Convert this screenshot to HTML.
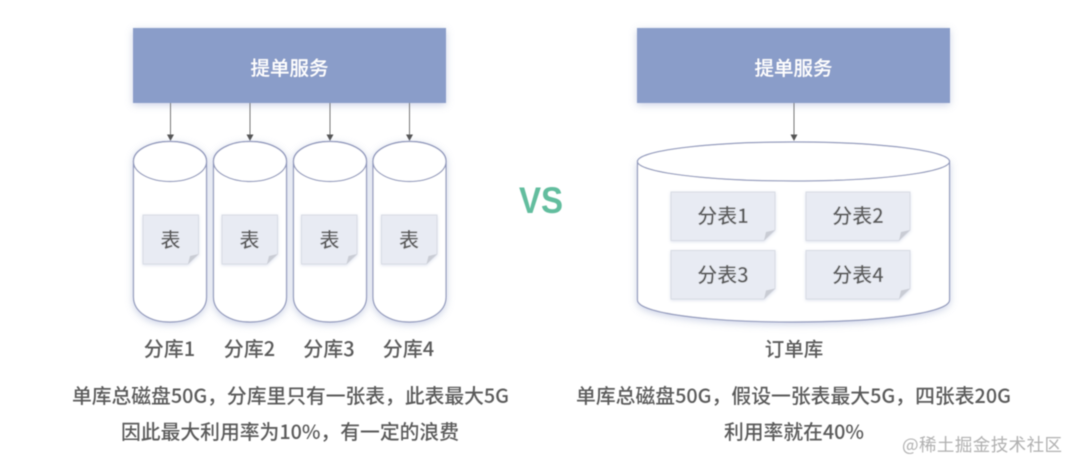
<!DOCTYPE html>
<html lang="zh">
<head>
<meta charset="utf-8">
<style>
html,body{margin:0;padding:0;background:#fff;width:1080px;height:473px;overflow:hidden}
svg{display:block;position:absolute;left:0;top:0}
text{font-family:"Noto Sans CJK SC",sans-serif;fill:#5a5a5a}
.c{text-anchor:middle;font-weight:500}
.l{font-size:19.800px;font-weight:500}
</style>
</head>
<body>
<svg width="1080" height="473" viewBox="0 0 1080 473" xmlns="http://www.w3.org/2000/svg">
<defs>
<filter id="sh" x="-30%" y="-20%" width="160%" height="140%"><feDropShadow dx="0" dy="2" stdDeviation="4" flood-color="#8d9cc8" flood-opacity=".45"/></filter>
<filter id="s2" x="-20%" y="-20%" width="140%" height="140%"><feDropShadow dx="0" dy="1" stdDeviation="1.500" flood-color="#8d9cc8" flood-opacity=".3"/></filter>
<filter id="b" x="-5%" y="-5%" width="110%" height="110%"><feGaussianBlur stdDeviation="0.450"/></filter>
<g id="cyl">
<path d="M0.500 20C0.500 9 17 0.500 37 0.500S73.500 9 73.500 20V156C73.500 171 57 181 37 181S0.500 171 0.500 156Z" fill="#fff" stroke="#8f97bb" stroke-width="1.200" filter="url(#sh)"/>
<ellipse cx="37" cy="20.500" rx="36.500" ry="20" fill="#fff" stroke="#8f97bb" stroke-width="1.200"/>
</g>
<g id="t1">
<path d="M0 0H55.500V39L45 49H0Z" fill="#e8ebf3" stroke="#d8dbe4" stroke-width="1" filter="url(#s2)"/>
<path d="M55.500 39L45 49L47 41Z" fill="#c9ccd4"/>
</g>
<g id="t2">
<path d="M0 0H104V38L93 48.500H0Z" fill="#e8ebf3" stroke="#d8dbe4" stroke-width="1" filter="url(#s2)"/>
<path d="M104 38L93 48.500L95 40Z" fill="#c9ccd4"/>
</g>
<g id="ah"><path d="M-3.500 -6.500H3.500L0 0Z" fill="#555"/></g>
</defs>
<g filter="url(#b)">
<rect x="133" y="28" width="313" height="75" fill="#8a9dc9" filter="url(#sh)"/>
<rect x="637" y="28" width="313" height="75" fill="#8a9dc9" filter="url(#sh)"/>
<g stroke="#777" stroke-width="1" fill="none">
<path d="M170.500 103V136M250 103V136M330 103V136M409.500 103V136M794 103V137"/>
</g>
<use href="#ah" x="170.500" y="141"/><use href="#ah" x="250" y="141"/><use href="#ah" x="330" y="141"/><use href="#ah" x="409.500" y="141"/><use href="#ah" x="794" y="141"/>
<use href="#cyl" x="133" y="141"/><use href="#cyl" x="213" y="141"/><use href="#cyl" x="293" y="141"/><use href="#cyl" x="372.500" y="141"/>
<path d="M637.500 161V300C637.500 313 707 322 793 322S949.500 313 949.500 300V161Z" fill="#fff" stroke="#8f97bb" stroke-width="1.200" filter="url(#sh)"/>
<ellipse cx="793.500" cy="161.500" rx="156" ry="19.500" fill="#fff" stroke="#8f97bb" stroke-width="1.200"/>
<use href="#t1" x="143" y="215"/><use href="#t1" x="222" y="215"/><use href="#t1" x="301.500" y="215"/><use href="#t1" x="381.500" y="215"/>
<use href="#t2" x="671" y="192"/><use href="#t2" x="806" y="192"/><use href="#t2" x="671" y="250.500"/><use href="#t2" x="806" y="250.500"/>
<text class="c" x="289.500" y="75" font-size="19.500" style="fill:#fff">提单服务</text>
<text class="c" x="793.500" y="75" font-size="19.500" style="fill:#fff">提单服务</text>
<text class="c" x="170.500" y="247" font-size="20">表</text>
<text class="c" x="249.500" y="247" font-size="20">表</text>
<text class="c" x="329.500" y="247" font-size="20">表</text>
<text class="c" x="409" y="247" font-size="20">表</text>
<text class="c" x="169.500" y="356" font-size="20">分库1</text>
<text class="c" x="249.500" y="356" font-size="20">分库2</text>
<text class="c" x="329" y="356" font-size="20">分库3</text>
<text class="c" x="408.500" y="356" font-size="20">分库4</text>
<text class="c" x="723" y="223" font-size="20">分表1</text>
<text class="c" x="858" y="223" font-size="20">分表2</text>
<text class="c" x="723" y="282" font-size="20">分表3</text>
<text class="c" x="858" y="282" font-size="20">分表4</text>
<text class="c" x="794" y="356" font-size="19.500">订单库</text>
<text class="l" x="72" y="403" textLength="437" lengthAdjust="spacing">单库总磁盘50G&#xFF0C;分库里只有一张表&#xFF0C;此表最大5G</text>
<text class="l" x="121" y="439" textLength="338" lengthAdjust="spacing">因此最大利用率为10%&#xFF0C;有一定的浪费</text>
<text class="l" x="576" y="403" textLength="435" lengthAdjust="spacing">单库总磁盘50G&#xFF0C;假设一张表最大5G&#xFF0C;四张表20G</text>
<text class="l" x="724" y="439" textLength="140" lengthAdjust="spacing">利用率就在40%</text>
<text x="519" y="213" font-size="37" font-weight="700" textLength="44" lengthAdjust="spacingAndGlyphs" style="fill:#62bd9e;font-family:'Liberation Sans',sans-serif">VS</text>
<text x="902" y="451" font-size="17.500" textLength="160" lengthAdjust="spacing" style="fill:#b0b0b0">@稀土掘金技术社区</text>
</g>
</svg>
</body>
</html>
